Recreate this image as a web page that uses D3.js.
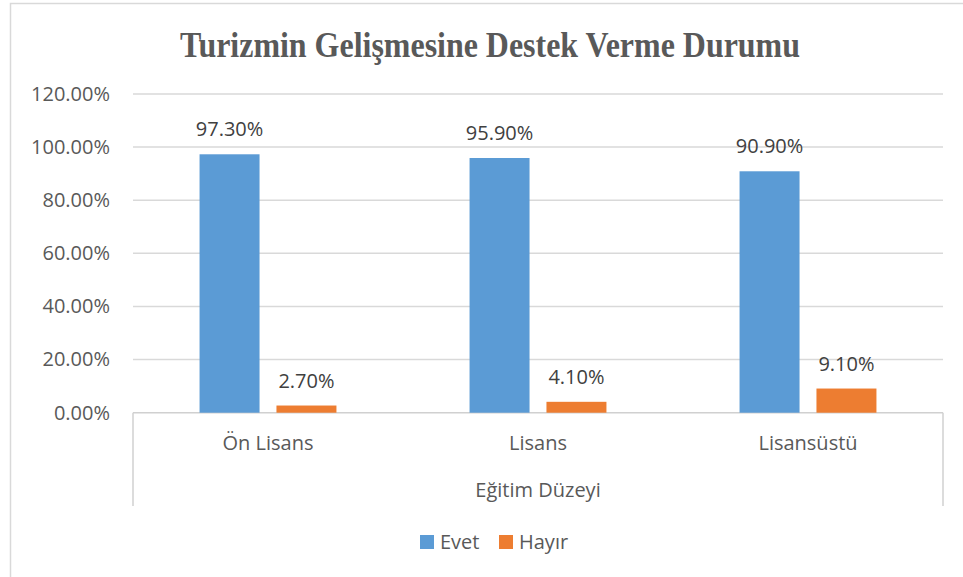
<!DOCTYPE html>
<html><head><meta charset="utf-8">
<script src="https://cdn.jsdelivr.net/npm/d3@7"></script>
<style>body{margin:0;background:#fff}svg{display:block}</style>
</head><body><svg id="c" width="963" height="577"></svg>
<script>
const categories = ["Ön Lisans", "Lisans", "Lisansüstü"];
const seriesNames = ["Evet", "Hayır"];
const evet = [97.3, 95.9, 90.9];
const hayir = [2.7, 4.1, 9.1];
const yTicks = [0, 20, 40, 60, 80, 100, 120];
const colors = ["#5B9BD5", "#ED7D31"];
const title = "Turizmin Gelişmesine Destek Verme Durumu";
const xTitle = "Eğitim Düzeyi";

const svg = d3.select("#c");
const font = "'Open Sans', sans-serif";
const L = 133, R = 943, T = 94, B = 412.7;

// outer border
svg.append("rect").attr("x",10.5).attr("y",3.5).attr("width",960).attr("height",590)
  .attr("fill","none").attr("stroke","#d9d9d9").attr("stroke-width",1.5);

const y = d3.scaleLinear().domain([0,120]).range([B,T]);
const x0 = d3.scaleBand().domain(categories).range([L,R]).paddingInner(0.493).paddingOuter(0.2465);
const x1 = d3.scaleBand().domain(seriesNames).range([0,x0.bandwidth()]).paddingInner(0.22);

// gridlines
svg.append("g").selectAll("line").data(yTicks.filter(d=>d>0)).join("line")
  .attr("x1",L).attr("x2",R).attr("y1",d=>y(d)).attr("y2",d=>y(d))
  .attr("stroke","#d9d9d9").attr("stroke-width",1.5);

// y axis labels
const yAxis = d3.axisLeft(y).tickValues(yTicks).tickSize(0).tickPadding(0)
  .tickFormat(d=>d.toFixed(2)+"%");
const yg = svg.append("g").attr("transform",`translate(110,0)`).call(yAxis);
yg.select(".domain").remove();
yg.selectAll("text").attr("font-family",font).attr("font-size",20).attr("fill","#595959");

// category axis box lines
svg.append("line").attr("x1",L).attr("x2",R).attr("y1",B).attr("y2",B).attr("stroke","#d0d0d0").attr("stroke-width",1.5);
svg.append("line").attr("x1",L).attr("x2",L).attr("y1",B).attr("y2",506).attr("stroke","#d0d0d0").attr("stroke-width",1.5);
svg.append("line").attr("x1",R).attr("x2",R).attr("y1",B).attr("y2",506).attr("stroke","#d0d0d0").attr("stroke-width",1.5);

const data = categories.map((c,i)=>({cat:c, vals:[{s:"Evet",v:evet[i]},{s:"Hayır",v:hayir[i]}]}));
const g = svg.append("g").selectAll("g").data(data).join("g")
  .attr("transform",d=>`translate(${x0(d.cat)},0)`);
g.selectAll("rect").data(d=>d.vals).join("rect")
  .attr("x",d=>x1(d.s)).attr("width",x1.bandwidth())
  .attr("y",d=>y(d.v)).attr("height",d=>B-y(d.v))
  .attr("fill",(d,i)=>colors[i]);
g.selectAll("text").data(d=>d.vals).join("text")
  .attr("x",d=>x1(d.s)+x1.bandwidth()/2).attr("y",d=>y(d.v)-18)
  .attr("text-anchor","middle").attr("font-family",font).attr("font-size",20).attr("fill","#404040")
  .text(d=>d.v.toFixed(2)+"%");

// category labels
svg.append("g").selectAll("text").data(categories).join("text")
  .attr("x",d=>x0(d)+x0.bandwidth()/2).attr("y",450)
  .attr("text-anchor","middle").attr("font-family",font).attr("font-size",20).attr("fill","#595959")
  .text(d=>d);

svg.append("text").attr("x",(L+R)/2).attr("y",497).attr("text-anchor","middle")
  .attr("font-family",font).attr("font-size",20).attr("fill","#595959").text(xTitle);

// title
svg.append("text").attr("x",490).attr("y",57).attr("text-anchor","middle")
  .attr("font-family","'Liberation Serif', 'Times New Roman', serif").attr("font-weight","bold")
  .attr("font-size",36).attr("fill","#595959")
  .attr("textLength",620).attr("lengthAdjust","spacingAndGlyphs").text(title);

// legend
const lg = svg.append("g");
const legX = [420, 499];
seriesNames.forEach((s,i)=>{
  lg.append("rect").attr("x",legX[i]).attr("y",535).attr("width",14).attr("height",14).attr("fill",colors[i]);
  lg.append("text").attr("x",legX[i]+20).attr("y",549).attr("font-family",font).attr("font-size",20)
    .attr("fill","#595959").text(s);
});
</script></body></html>
